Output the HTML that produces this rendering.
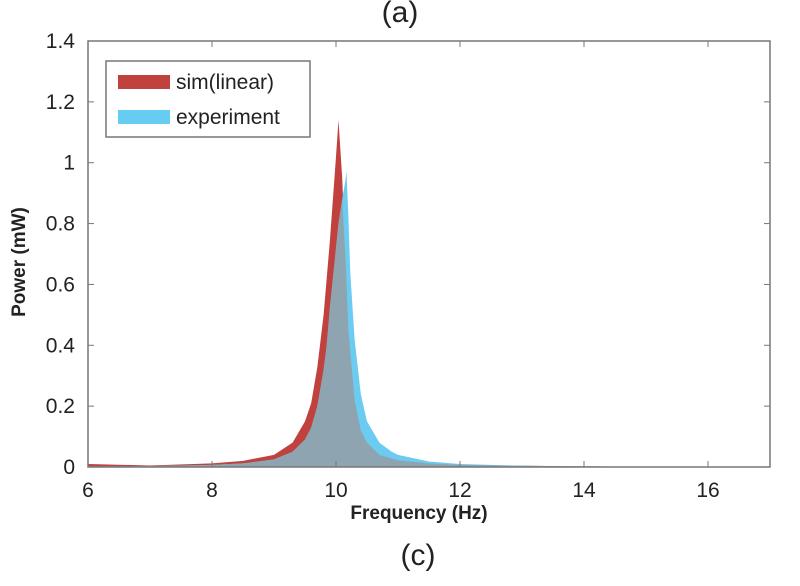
<!DOCTYPE html>
<html><head><meta charset="utf-8"><style>
body{margin:0;background:#fff;}
svg text{font-family:"Liberation Sans",sans-serif;}
</style></head><body>
<svg id="c" width="800" height="581" xmlns="http://www.w3.org/2000/svg">
<text x="400" y="22" font-size="30" text-anchor="middle" fill="#222">(a)</text>
<text x="418" y="565" font-size="30" text-anchor="middle" fill="#222">(c)</text>
<g id="plot"></g>
</svg>
<script>
const freqs=[6,7,8,8.5,9,9.3,9.5,9.6,9.7,9.8,9.85,9.9,9.95,10,10.04,10.1,10.15,10.17,10.2,10.23,10.3,10.4,10.5,10.7,10.9,11,11.5,12,13,14,15,16,17];
const simValues=[0.01,0.005,0.012,0.02,0.04,0.08,0.15,0.21,0.33,0.5,0.62,0.74,0.88,1.02,1.14,0.95,0.7,0.6,0.45,0.38,0.22,0.12,0.08,0.04,0.028,0.022,0.012,0.007,0.004,0.002,0.001,0.001,0.001];
const expValues=[0.002,0.003,0.007,0.012,0.025,0.05,0.09,0.13,0.2,0.32,0.4,0.52,0.62,0.72,0.8,0.88,0.94,0.97,0.82,0.64,0.42,0.24,0.15,0.08,0.05,0.04,0.018,0.01,0.004,0.002,0.001,0.001,0.001];
const xTicks=[6,8,10,12,14,16];
const yTicks=[0,0.2,0.4,0.6,0.8,1,1.2,1.4];
const yTickLabels=["0","0.2","0.4","0.6","0.8","1","1.2","1.4"];
const L=88,R=770,T=41,B=467,X0=6,X1=17,Y1=1.4;
const sx=v=>L+(v-X0)/(X1-X0)*(R-L);
const sy=v=>B-v/Y1*(B-T);
const NS="http://www.w3.org/2000/svg";
const g=document.getElementById('plot');
function mk(t,a){const e=document.createElementNS(NS,t);for(const k in a)e.setAttribute(k,a[k]);g.appendChild(e);return e;}
function area(vals){let d=`M${sx(freqs[0])},${sy(0)}`;freqs.forEach((f,i)=>{d+=` L${sx(f)},${sy(vals[i])}`});d+=` L${sx(freqs[freqs.length-1])},${sy(0)} Z`;return d;}
const minVals=simValues.map((v,i)=>Math.min(v,expValues[i]));
let e=mk('path',{d:area(simValues),fill:'#c0413d','stroke-linejoin':'round'});


e=mk('path',{d:area(expValues),fill:'#6ccbf0'});


e=mk('path',{d:area(minVals),fill:'#8ea5b1'});


e=mk('rect',{x:L,y:T,width:R-L,height:B-T,fill:'none',stroke:'#777','stroke-width':1.5});


xTicks.forEach(v=>{
 let t=mk('line',{x1:sx(v),x2:sx(v),y1:B,y2:B-6,stroke:'#777'});
 
 
 t=mk('line',{x1:sx(v),x2:sx(v),y1:T,y2:T+6,stroke:'#777'});
 
 
 const l=mk('text',{x:sx(v),y:B+30,'font-size':21,'text-anchor':'middle',fill:'#222'});l.textContent=v;
 
 
});
yTicks.forEach((v,i)=>{
 let t=mk('line',{x1:L,x2:L+6,y1:sy(v),y2:sy(v),stroke:'#777'});
 
 
 t=mk('line',{x1:R,x2:R-6,y1:sy(v),y2:sy(v),stroke:'#777'});
 
 
 const l=mk('text',{x:L-13,y:sy(v)+7,'font-size':21,'text-anchor':'end',fill:'#222'});l.textContent=yTickLabels[i];
 
 
});
let xt=mk('text',{x:(L+R)/2-10,y:B+52,'font-size':19,'font-weight':'bold','text-anchor':'middle',fill:'#222'});xt.textContent='Frequency (Hz)';


let yt=mk('text',{x:0,y:0,'font-size':19,'font-weight':'bold','text-anchor':'middle',fill:'#222',transform:`translate(25,${(T+B)/2+8}) rotate(-90)`});yt.textContent='Power (mW)';


let lg=mk('rect',{x:106,y:61,width:204,height:76,fill:'#fff',stroke:'#777','stroke-width':1.5});


let s1=mk('rect',{x:118,y:75,width:52,height:14,fill:'#c0413d'});


let t1=mk('text',{x:176,y:89,'font-size':21,fill:'#222'});t1.textContent='sim(linear)';


let s2=mk('rect',{x:118,y:110,width:52,height:14,fill:'#66ccf2'});


let t2=mk('text',{x:176,y:124,'font-size':21,fill:'#222'});t2.textContent='experiment';


</script>
</body></html>
